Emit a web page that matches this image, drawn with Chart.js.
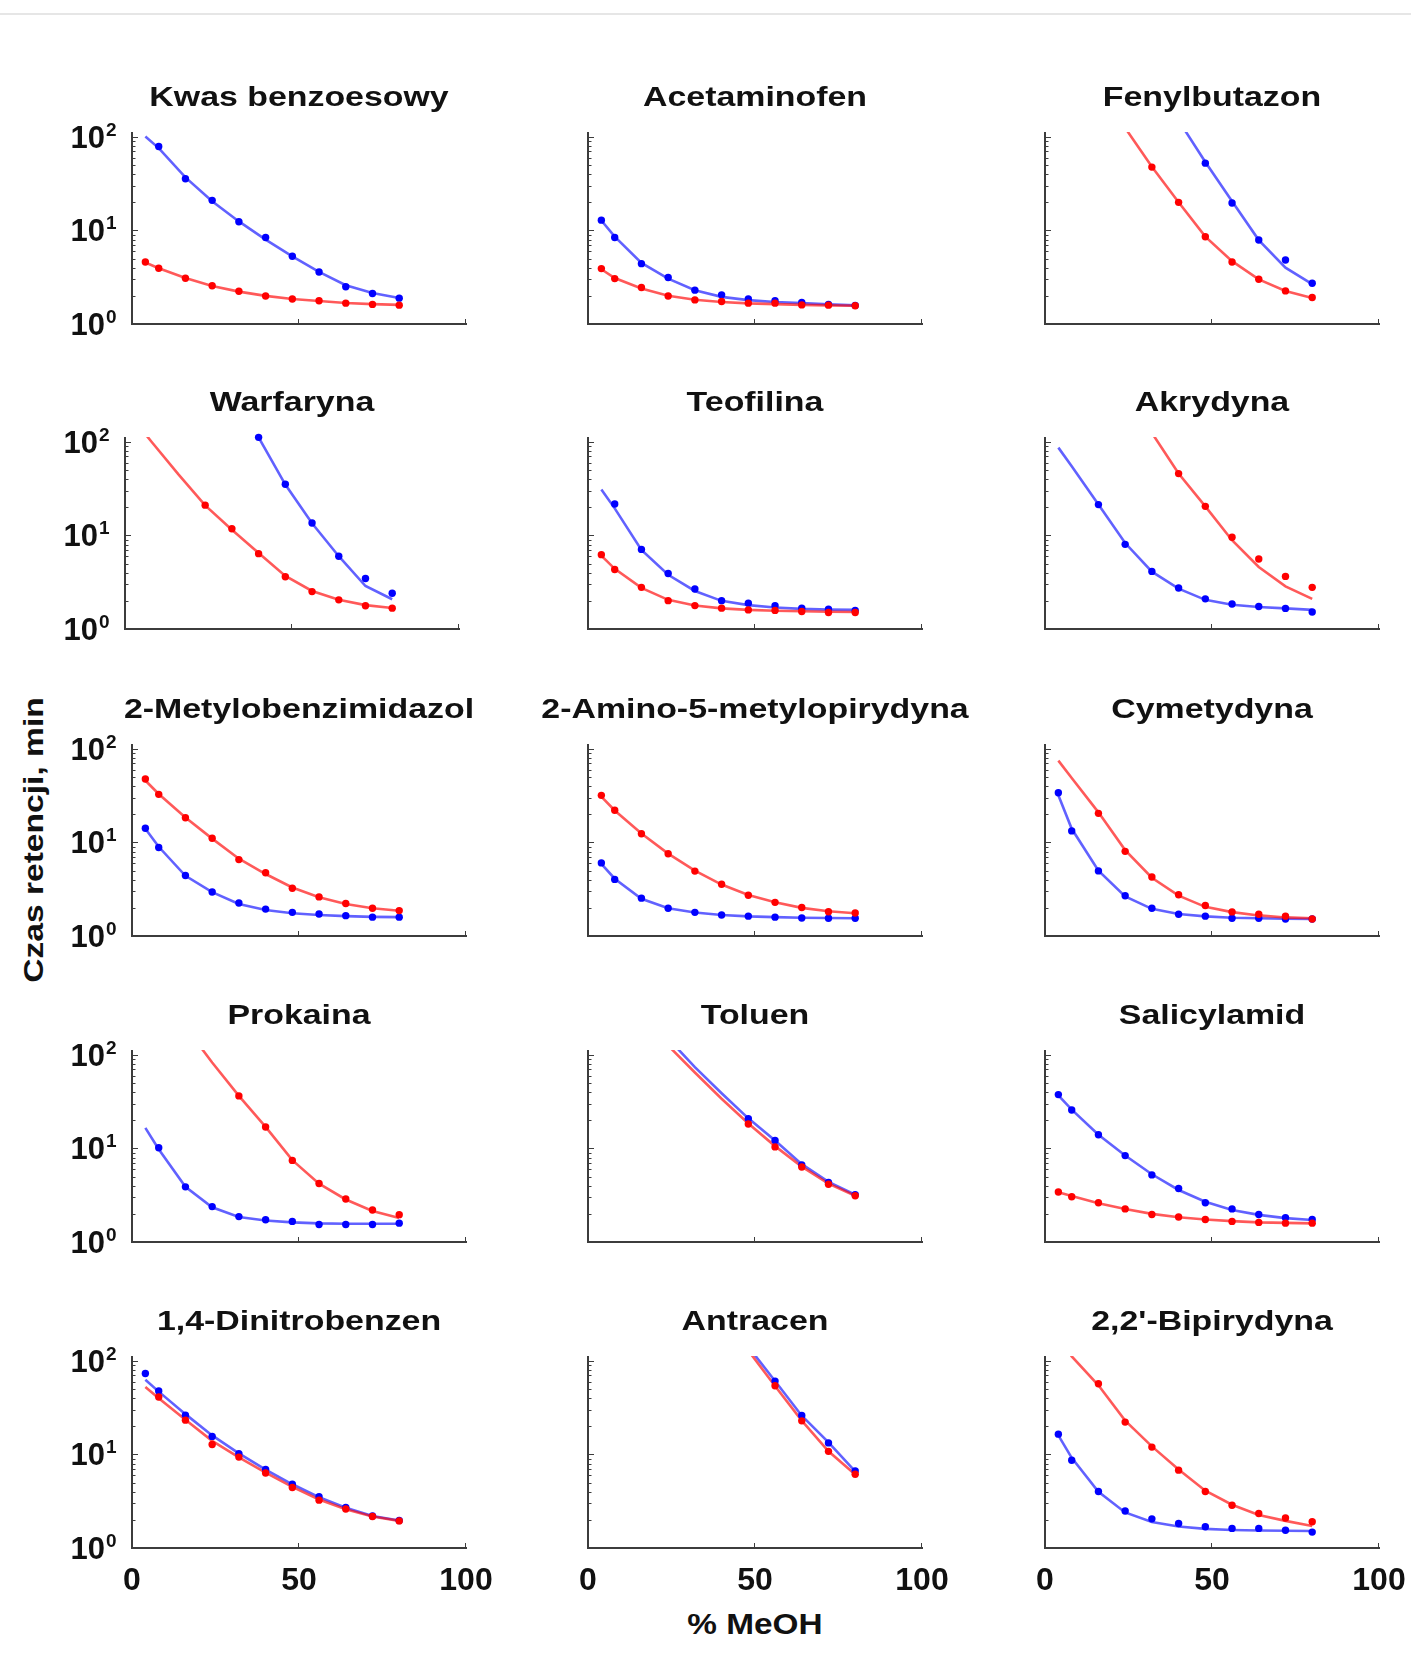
<!DOCTYPE html>
<html><head><meta charset="utf-8">
<script src="https://cdn.jsdelivr.net/npm/chart.js@4.4.1/dist/chart.umd.min.js"></script>
<style>
html,body{margin:0;padding:0;background:#fff;}
#fig{position:relative;width:1411px;height:1674px;overflow:hidden;background:#fff;}
#topline{position:absolute;left:0;top:13px;width:1411px;height:2px;background:#e6e6e6;}
canvas{position:absolute;}
.lbl{position:absolute;font-family:"Liberation Sans",Arial,sans-serif;font-weight:bold;color:#111;white-space:nowrap;line-height:1;}
</style></head><body>
<div id="fig">
<div id="topline"></div>
<div class="lbl" id="xlab" style="left:755px;top:1610px;font-size:29px;transform:translateX(-50%) scaleX(1.15);">% MeOH</div>
<div class="lbl" id="ylab" style="left:34px;top:840px;font-size:28px;transform:translate(-50%,-50%) rotate(-90deg) scaleX(1.2);">Czas retencji, min</div>
</div>
<script>
// ---------- DATA ----------
const xPct = [4, 8, 16, 24, 32, 40, 48, 56, 64, 72, 80];
const panelTitles = ['Kwas benzoesowy', 'Acetaminofen', 'Fenylbutazon',
  'Warfaryna', 'Teofilina', 'Akrydyna',
  '2-Metylobenzimidazol', '2-Amino-5-metylopirydyna', 'Cymetydyna',
  'Prokaina', 'Toluen', 'Salicylamid',
  '1,4-Dinitrobenzen', 'Antracen', "2,2'-Bipirydyna"];
const xTickValues = [0, 50, 100];
const xTickLabels = ['0', '50', '100'];
const yTickValues = [1, 10, 100];
const yTickBase = '10';
const yTickExponents = ['0', '1', '2'];
const xAxisTitle = '% MeOH';
const yAxisTitle = 'Czas retencji, min';

// blue = points / fitted line; red = points / fitted line (values at xPct)
const kwasBlue    = [null, 79, 35.7, 21.0, 12.4, 8.4, 5.3, 3.6, 2.5, 2.12, 1.89];
const kwasBlueFit = [101, 76, 37, 20.5, 12.5, 8.0, 5.3, 3.6, 2.6, 2.15, 1.9];
const kwasRed     = [4.6, 3.94, 3.08, 2.56, 2.24, 1.99, 1.85, 1.77, 1.67, 1.62, 1.59];
const kwasRedFit  = [4.55, 3.95, 3.1, 2.55, 2.22, 2.0, 1.85, 1.76, 1.68, 1.63, 1.6];

const acetBlue    = [12.9, 8.4, 4.42, 3.14, 2.30, 2.05, 1.85, 1.77, 1.70, 1.62, 1.58];
const acetBlueFit = [12.8, 8.6, 4.5, 3.05, 2.3, 1.95, 1.8, 1.72, 1.67, 1.62, 1.58];
const acetRed     = [3.91, 3.06, 2.46, 1.99, 1.81, 1.74, 1.67, 1.67, 1.60, 1.59, 1.57];
const acetRedFit  = [3.85, 3.1, 2.4, 2.0, 1.82, 1.72, 1.66, 1.63, 1.6, 1.58, 1.57];

const fenBlue     = [null, null, null, null, null, null, 52.5, 19.7, 7.9, 4.83, 2.73];
const fenBlueFit  = [null, null, null, null, 400, 150, 54, 20.5, 7.9, 4.0, 2.67];
const fenRed      = [null, null, null, null, 47.6, 20.0, 8.57, 4.60, 3.01, 2.26, 1.92];
const fenRedFit   = [null, null, null, 125, 48, 20, 8.6, 4.7, 3.0, 2.25, 1.9];

const warfBlue    = [null, null, null, null, null, 112, 35.3, 13.6, 6.0, 3.47, 2.41];
const warfBlueFit = [null, null, null, null, 420, 112, 35, 13.5, 6.0, 2.88, 2.08];
const warfRed     = [null, null, null, 21.1, 11.8, 6.39, 3.62, 2.51, 2.05, 1.77, 1.67];
const warfRedFit  = [150, 100, 45, 21, 11.5, 6.5, 3.7, 2.55, 2.05, 1.8, 1.68];

const teoBlue     = [null, 21.7, 7.1, 3.92, 2.68, 2.01, 1.89, 1.77, 1.67, 1.63, 1.58];
const teoBlueFit  = [31, 19.5, 7.0, 3.8, 2.55, 2.0, 1.8, 1.7, 1.64, 1.61, 1.6];
const teoRed      = [6.24, 4.33, 2.79, 2.01, 1.78, 1.67, 1.60, 1.58, 1.54, 1.50, 1.50];
const teoRedFit   = [6.1, 4.4, 2.75, 2.05, 1.78, 1.66, 1.6, 1.57, 1.55, 1.53, 1.52];

const akrBlue     = [null, null, 21.4, 8.04, 4.13, 2.74, 2.10, 1.85, 1.74, 1.66, 1.52];
const akrBlueFit  = [87, 55, 21.5, 8.3, 4.1, 2.7, 2.05, 1.82, 1.72, 1.66, 1.6];
const akrRed      = [null, null, null, null, null, 45.9, 20.5, 9.57, 5.61, 3.65, 2.79];
const akrRedFit   = [null, null, null, null, 125, 46, 20.5, 8.9, 4.6, 2.86, 2.1];

const mbiBlue     = [14.2, 8.85, 4.44, 2.96, 2.25, 1.94, 1.79, 1.72, 1.65, 1.59, 1.59];
const mbiBlueFit  = [14, 9.0, 4.4, 2.95, 2.2, 1.9, 1.75, 1.68, 1.63, 1.6, 1.59];
const mbiRed      = [47.8, 32.7, 18.4, 11.1, 6.56, 4.74, 3.24, 2.62, 2.23, 1.98, 1.87];
const mbiRedFit   = [46, 33, 18.5, 11, 6.7, 4.6, 3.3, 2.6, 2.2, 1.98, 1.86];

const ampBlue     = [6.05, 4.03, 2.54, 1.98, 1.79, 1.68, 1.63, 1.59, 1.56, 1.55, 1.55];
const ampBlueFit  = [5.9, 4.1, 2.5, 1.98, 1.78, 1.68, 1.62, 1.59, 1.57, 1.56, 1.55];
const ampRed      = [31.9, 22.1, 12.4, 7.59, 4.94, 3.57, 2.73, 2.29, 2.02, 1.82, 1.76];
const ampRedFit   = [31, 22, 12.5, 7.6, 5.0, 3.55, 2.75, 2.3, 2.0, 1.84, 1.75];

const cymBlue     = [34, 13.3, 4.97, 2.69, 1.98, 1.71, 1.63, 1.55, 1.55, 1.52, 1.52];
const cymBlueFit  = [32, 14, 5.0, 2.65, 1.95, 1.72, 1.62, 1.57, 1.55, 1.53, 1.52];
const cymRed      = [null, null, 20.5, 8.04, 4.28, 2.76, 2.12, 1.81, 1.71, 1.63, 1.52];
const cymRedFit   = [75, 49, 21, 8.3, 4.2, 2.7, 2.05, 1.8, 1.66, 1.58, 1.55];

const prokBlue    = [null, 10.2, 3.89, 2.39, 1.87, 1.73, 1.66, 1.54, 1.54, 1.54, 1.59];
const prokBlueFit = [16.6, 9.8, 3.9, 2.35, 1.85, 1.7, 1.62, 1.58, 1.57, 1.57, 1.57];
const prokRed     = [null, null, null, null, 36.5, 17.0, 7.46, 4.22, 2.88, 2.20, 1.96];
const prokRedFit  = [null, null, 200, 83, 36.5, 17, 7.5, 4.2, 2.85, 2.15, 1.81];

const tolBlue     = [null, null, null, null, null, null, 20.8, 12.2, 6.65, 4.33, 3.2];
const tolBlueFit  = [null, null, null, 150, 74, 39, 21, 12.2, 6.8, 4.4, 3.2];
const tolRed      = [null, null, null, null, null, null, 18.3, 10.4, 6.34, 4.15, 3.12];
const tolRedFit   = [null, null, null, 126, 65, 34, 18.5, 10.6, 6.4, 4.2, 3.12];

const salBlue     = [37.7, 25.8, 14.0, 8.39, 5.22, 3.74, 2.63, 2.26, 1.97, 1.82, 1.74];
const salBlueFit  = [37, 26, 14, 8.4, 5.3, 3.6, 2.7, 2.2, 1.95, 1.8, 1.72];
const salRed      = [3.42, 3.05, 2.63, 2.26, 1.97, 1.85, 1.74, 1.66, 1.62, 1.59, 1.59];
const salRedFit   = [3.4, 3.1, 2.6, 2.25, 2.0, 1.84, 1.74, 1.67, 1.62, 1.6, 1.58];

const dnbBlue     = [73.4, 47.7, 26.3, 15.6, 10.2, 6.93, 4.81, 3.53, 2.72, 2.20, 1.97];
const dnbBlueFit  = [63, 47, 27, 16, 10.3, 6.9, 4.8, 3.5, 2.7, 2.2, 1.97];
const dnbRed      = [null, 41.2, 23.3, 12.8, 9.37, 6.34, 4.43, 3.25, 2.61, 2.17, 1.95];
const dnbRedFit   = [52.6, 40, 23.5, 14, 9.3, 6.4, 4.5, 3.3, 2.6, 2.17, 1.95];

const antBlue     = [null, null, null, null, null, null, null, 60.9, 26.1, 13.3, 6.65];
const antBlueFit  = [null, null, null, null, null, null, 142, 61, 26, 13.5, 6.6];
const antRed      = [null, null, null, null, null, null, null, 54.3, 22.9, 10.8, 6.14];
const antRedFit   = [null, null, null, null, null, null, 129, 54, 23, 10.8, 6.1];

const bipBlue     = [16.5, 8.69, 4.02, 2.49, 2.05, 1.83, 1.69, 1.62, 1.62, 1.55, 1.48];
const bipBlueFit  = [16, 9.2, 4.0, 2.4, 1.9, 1.7, 1.6, 1.56, 1.54, 1.53, 1.52];
const bipRed      = [null, null, 57.1, 22.2, 12.0, 6.80, 4.02, 2.86, 2.34, 2.09, 1.91];
const bipRedFit   = [178, 112, 55, 23, 12.2, 6.9, 4.1, 2.9, 2.25, 1.95, 1.72];

const panelSeries = [
  [kwasBlue, kwasBlueFit, kwasRed, kwasRedFit],
  [acetBlue, acetBlueFit, acetRed, acetRedFit],
  [fenBlue, fenBlueFit, fenRed, fenRedFit],
  [warfBlue, warfBlueFit, warfRed, warfRedFit],
  [teoBlue, teoBlueFit, teoRed, teoRedFit],
  [akrBlue, akrBlueFit, akrRed, akrRedFit],
  [mbiBlue, mbiBlueFit, mbiRed, mbiRedFit],
  [ampBlue, ampBlueFit, ampRed, ampRedFit],
  [cymBlue, cymBlueFit, cymRed, cymRedFit],
  [prokBlue, prokBlueFit, prokRed, prokRedFit],
  [tolBlue, tolBlueFit, tolRed, tolRedFit],
  [salBlue, salBlueFit, salRed, salRedFit],
  [dnbBlue, dnbBlueFit, dnbRed, dnbRedFit],
  [antBlue, antBlueFit, antRed, antRedFit],
  [bipBlue, bipBlueFit, bipRed, bipRedFit]
];

// ---------- LAYOUT / STYLE ----------
const colLeft = [132, 588, 1045];
const rowTop = [132, 437, 744, 1050, 1356];
const AX_W = 334, AX_H = 192;
const PL = 130, PR = 80, PT = 60, PB = 70;
const FONT = '"Liberation Sans", Arial, Helvetica, sans-serif';
const AXIS = '#3c3c3c';
const BLUE_PT = '#0000ff', RED_PT = '#ff0000';
const BLUE_LN = 'rgba(0,0,255,0.62)', RED_LN = 'rgba(255,0,0,0.65)';

document.getElementById('xlab').textContent = xAxisTitle;
document.getElementById('ylab').textContent = yAxisTitle;

function pts(arr) {
  const out = [];
  arr.forEach((v, i) => { if (v !== null) out.push({x: xPct[i], y: v}); });
  return out;
}

function decor(idx, showY, showX) {
  return {
    id: 'decor' + idx,
    beforeDatasetsDraw(chart) {
      const ctx = chart.ctx, a = chart.chartArea;
      const xs = chart.scales.x, ys = chart.scales.y;
      ctx.save();
      ctx.strokeStyle = AXIS;
      ctx.lineWidth = 2;
      ctx.beginPath();
      ctx.moveTo(a.left, a.top);
      ctx.lineTo(a.left, a.bottom);
      ctx.lineTo(a.right + 1, a.bottom);
      ctx.stroke();
      ctx.lineWidth = 1;
      for (let d = 0; d < 3; d++) {
        for (let m = 1; m <= 9; m++) {
          const v = m * Math.pow(10, d);
          if (v > ys.max) continue;
          const y = Math.round(ys.getPixelForValue(v)) + 0.5;
          const len = m === 1 ? 6 : 3.5;
          ctx.beginPath();
          ctx.moveTo(a.left, y);
          ctx.lineTo(a.left + len, y);
          ctx.stroke();
        }
      }
      xTickValues.forEach(v => {
        if (v === 0) return;
        const x = Math.round(xs.getPixelForValue(v)) - 0.5;
        ctx.beginPath();
        ctx.moveTo(x, a.bottom);
        ctx.lineTo(x, a.bottom - 5);
        ctx.stroke();
      });
      ctx.restore();
    },
    afterDraw(chart) {
      const ctx = chart.ctx, a = chart.chartArea;
      const xs = chart.scales.x, ys = chart.scales.y;
      ctx.save();
      ctx.fillStyle = '#111';
      ctx.font = 'bold 28px ' + FONT;
      ctx.textAlign = 'center';
      ctx.textBaseline = 'alphabetic';
      ctx.translate((a.left + a.right) / 2, a.top - 26);
      ctx.scale(1.21, 1);
      ctx.fillText(panelTitles[idx], 0, 0);
      ctx.restore();
      ctx.save();
      ctx.fillStyle = '#111';
      if (showY) {
        yTickValues.forEach((v, i) => {
          const y = ys.getPixelForValue(v);
          ctx.font = 'bold 31px ' + FONT;
          ctx.textAlign = 'right';
          ctx.textBaseline = 'alphabetic';
          ctx.fillText(yTickBase, a.left - 27, y + 11);
          ctx.font = 'bold 19px ' + FONT;
          ctx.textAlign = 'left';
          ctx.fillText(yTickExponents[i], a.left - 26, y - 1);
        });
      }
      if (showX) {
        ctx.font = 'bold 32px ' + FONT;
        ctx.textAlign = 'center';
        ctx.textBaseline = 'alphabetic';
        xTickValues.forEach((v, i) => {
          ctx.fillText(xTickLabels[i], xs.getPixelForValue(v), a.bottom + 42);
        });
      }
      ctx.restore();
    }
  };
}

const fig = document.getElementById('fig');
panelSeries.forEach((s, idx) => {
  const r = Math.floor(idx / 3), c = idx % 3;
  const left = colLeft[c] + (idx === 3 ? -7 : 0);
  const top = rowTop[r];
  const cv = document.createElement('canvas');
  const W = PL + AX_W + PR, H = PT + AX_H + PB;
  cv.width = W; cv.height = H;
  cv.style.width = W + 'px'; cv.style.height = H + 'px';
  cv.style.left = (left - PL) + 'px';
  cv.style.top = (top - PT) + 'px';
  fig.appendChild(cv);
  const [bPts, bFit, rPts, rFit] = s;
  new Chart(cv, {
    type: 'scatter',
    data: {
      datasets: [
        {data: pts(rPts), backgroundColor: RED_PT, borderColor: RED_PT, pointRadius: 3.7, pointBorderWidth: 0, showLine: false, order: 0, clip: 8},
        {data: pts(bPts), backgroundColor: BLUE_PT, borderColor: BLUE_PT, pointRadius: 3.7, pointBorderWidth: 0, showLine: false, order: 1, clip: 8},
        {data: pts(rFit), borderColor: RED_LN, backgroundColor: RED_LN, borderWidth: 2.6, pointRadius: 0, showLine: true, tension: 0, order: 2},
        {data: pts(bFit), borderColor: BLUE_LN, backgroundColor: BLUE_LN, borderWidth: 2.6, pointRadius: 0, showLine: true, tension: 0, order: 3}
      ]
    },
    options: {
      responsive: false,
      animation: false,
      events: [],
      layout: {padding: {left: PL, right: PR, top: PT, bottom: PB}},
      plugins: {legend: {display: false}, tooltip: {enabled: false}, title: {display: false}},
      scales: {
        x: {type: 'linear', min: 0, max: 100, display: false},
        y: {type: 'logarithmic', min: 1, max: 113, display: false}
      }
    },
    plugins: [decor(idx, c === 0, r === 4)]
  });
});
</script>
</body></html>
